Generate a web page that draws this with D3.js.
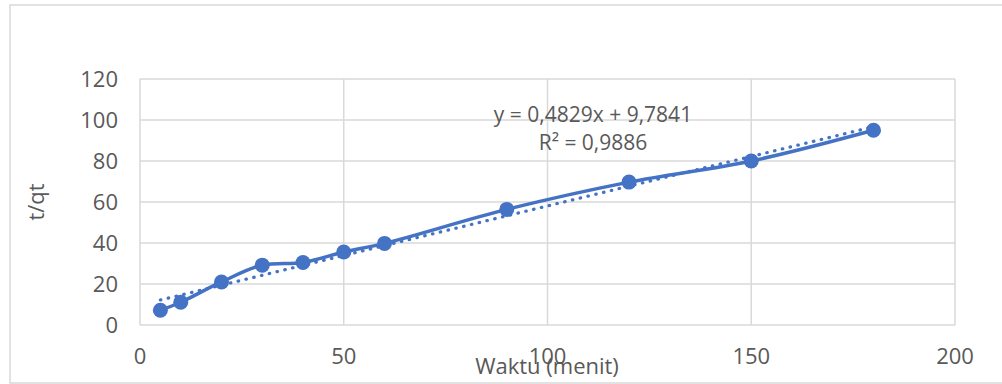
<!DOCTYPE html>
<html lang="id">
<head>
  <meta charset="UTF-8">
  <title>t/qt vs Waktu</title>
  <script src="https://d3js.org/d3.v7.min.js"></script>
  <style>
    body, html { margin: 0; padding: 0; background: #fff; overflow: hidden; }
    svg { display: block; font-family: "Open Sans", sans-serif; }
    .grid line { stroke: #d9d9d9; stroke-width: 1.5; }
    .tick-label { fill: #595959; font-size: 22px; }
  </style>
</head>
<body>
  <svg id="chart" width="1002" height="384"></svg>

  <script>
    // Data
    const waktu = [5, 10, 20, 30, 40, 50, 60, 90, 120, 150, 180];
    const tqt = [7.2, 11.1, 21, 29.2, 30.5, 35.6, 39.8, 56.4, 69.7, 80, 95];
    const xTicks = [0, 50, 100, 150, 200];
    const yTicks = [0, 20, 40, 60, 80, 100, 120];
    // linear trendline shown on the chart: y = slope * x + intercept
    const trendCoef = [0.4829, 9.7841];
    const eqLabels = ['y = 0,4829x + 9,7841', 'R² = 0,9886'];

    const blue = '#4472c4';
    const svg = d3.select('#chart');

    // outer chart border
    svg.append('rect')
      .attr('x', 10).attr('y', 5)
      .attr('width', 1000).attr('height', 378)
      .attr('fill', 'none').attr('stroke', '#d9d9d9').attr('stroke-width', 1.5);

    const x = d3.scaleLinear().domain([0, 200]).range([140, 955]);
    const y = d3.scaleLinear().domain([0, 120]).range([325, 79]);

    // gridlines
    const grid = svg.append('g').attr('class', 'grid');
    grid.selectAll('line.h').data(yTicks).enter().append('line')
      .attr('x1', x(0)).attr('x2', x(200))
      .attr('y1', d => y(d)).attr('y2', d => y(d));
    grid.selectAll('line.v').data(xTicks).enter().append('line')
      .attr('y1', y(0)).attr('y2', y(120))
      .attr('x1', d => x(d)).attr('x2', d => x(d));

    // tick labels
    svg.append('g').selectAll('text').data(yTicks).enter().append('text')
      .attr('class', 'tick-label')
      .attr('x', 118).attr('y', d => y(d))
      .attr('dy', '0.35em')
      .attr('text-anchor', 'end')
      .text(d => d);
    svg.append('g').selectAll('text').data(xTicks).enter().append('text')
      .attr('class', 'tick-label')
      .attr('x', d => x(d)).attr('y', 356)
      .attr('dy', '0.35em')
      .attr('text-anchor', 'middle')
      .text(d => d);

    // axis titles
    svg.append('text')
      .attr('transform', 'translate(36,202) rotate(-90)')
      .attr('text-anchor', 'middle').attr('dy', '0.35em')
      .attr('fill', '#595959').attr('font-size', 22)
      .text('t/qt');
    svg.append('text')
      .attr('x', 547).attr('y', 366)
      .attr('text-anchor', 'middle').attr('dy', '0.35em')
      .attr('fill', '#595959').attr('font-size', 22)
      .text('Waktu (menit)');

    // trendline (dotted)
    const xMin = d3.min(waktu), xMax = d3.max(waktu);
    const trend = [xMin, xMax].map(v => [v, trendCoef[0] * v + trendCoef[1]]);
    svg.append('path')
      .datum(trend)
      .attr('d', d3.line().x(d => x(d[0])).y(d => y(d[1])))
      .attr('fill', 'none').attr('stroke', blue)
      .attr('stroke-width', 3.2)
      .attr('stroke-linecap', 'round')
      .attr('stroke-dasharray', '0.5 7.5');

    // smoothed data line
    const pts = waktu.map((w, i) => [w, tqt[i]]);
    svg.append('path')
      .datum(pts)
      .attr('d', d3.line().x(d => x(d[0])).y(d => y(d[1])).curve(d3.curveCatmullRom))
      .attr('fill', 'none').attr('stroke', blue)
      .attr('stroke-width', 3.5)
      .attr('stroke-linejoin', 'round');

    svg.append('g').selectAll('circle').data(pts).enter().append('circle')
      .attr('cx', d => x(d[0])).attr('cy', d => y(d[1]))
      .attr('r', 7.5).attr('fill', blue);

    // trendline equation
    svg.append('g').selectAll('text').data(eqLabels).enter().append('text')
      .attr('x', 593).attr('y', (d, i) => 115 + i * 28)
      .attr('dy', '0.35em')
      .attr('text-anchor', 'middle')
      .attr('fill', '#595959').attr('font-size', 21)
      .text(d => d);
  </script>
</body>
</html>
